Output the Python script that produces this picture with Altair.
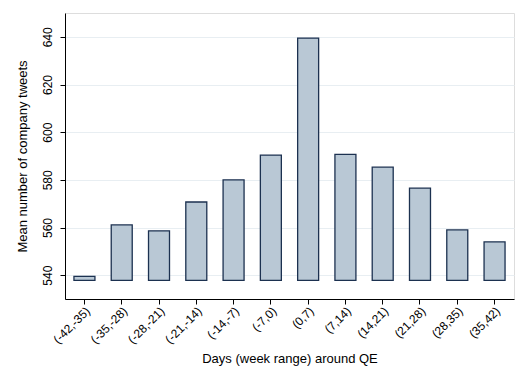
import altair as alt
import pandas as pd

categories = ["(-42,-35)", "(-35,-28)", "(-28,-21)", "(-21,-14)", "(-14,-7)", "(-7,0)",
              "(0,7)", "(7,14)", "(14,21)", "(21,28)", "(28,35)", "(35,42)"]
values = [539.5, 561.1, 558.6, 570.7, 580.0, 590.4, 639.5, 590.7, 585.3, 576.5, 559.0, 554.0]
base = 537.8

df = pd.DataFrame({"cat": categories, "val": values, "base": [base] * len(values)})

FONT = "Liberation Sans"

chart = alt.Chart(df).mark_bar(
    fill="#b9c8d5", stroke="#1c3150", strokeWidth=1.3
).encode(
    x=alt.X("cat:N", sort=categories, title="Days (week range) around QE",
            scale=alt.Scale(paddingInner=0.437, paddingOuter=0.24),
            axis=alt.Axis(labelAngle=315, labelFontSize=12, titleFontSize=13,
                          labelFont=FONT, titleFont=FONT, labelColor="#000", titleColor="#000",
                          domainColor="#000", tickColor="#000", tickSize=5, labelPadding=1,
                          titlePadding=7, titleFontWeight="normal", grid=False)),
    y=alt.Y("val:Q", title="Mean number of company tweets",
            scale=alt.Scale(domain=[530, 650], nice=False, zero=False),
            axis=alt.Axis(values=[540, 560, 580, 600, 620, 640], labelAngle=270,
                          labelAlign="center", labelBaseline="bottom",
                          labelFontSize=12, titleFontSize=13, labelFont=FONT, titleFont=FONT,
                          labelColor="#000", titleColor="#000", domainColor="#000",
                          tickColor="#000", tickSize=5, labelPadding=6, titlePadding=12,
                          titleFontWeight="normal", grid=True, gridColor="#e8eef2",
                          gridWidth=1)),
    y2="base:Q",
).properties(
    width=449, height=286,
    autosize=alt.AutoSizeParams(type="none"),
    padding={"left": 57, "top": 5, "right": 5, "bottom": 70},
).configure_view(stroke=None).configure(background="white")

chart.save("out.html", embed_options={"renderer": "svg", "actions": False})
